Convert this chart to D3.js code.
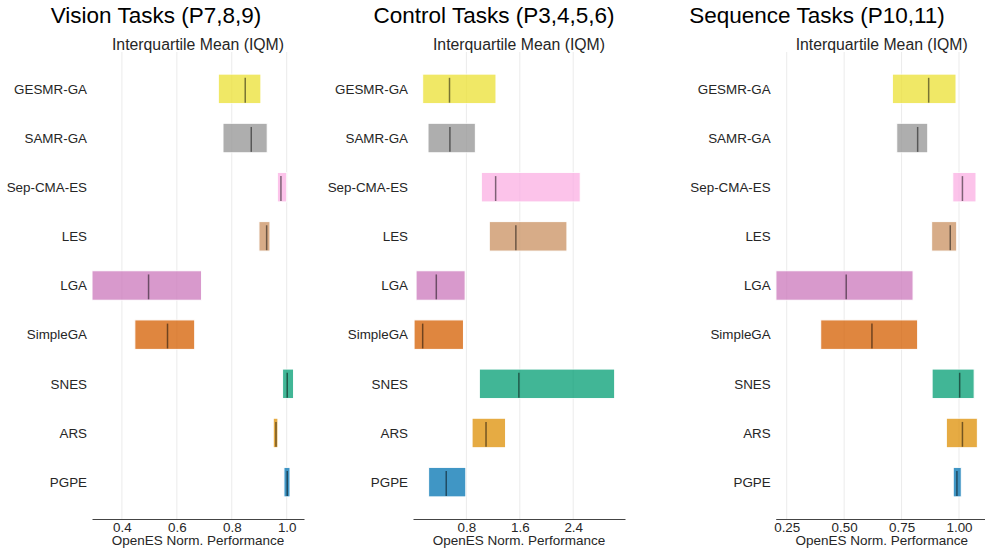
<!DOCTYPE html>
<html>
<head>
<meta charset="utf-8">
<script src="https://cdn.jsdelivr.net/npm/d3@7"></script>
<style>
  html, body { margin: 0; padding: 0; background: #fff; }
  svg { display: block; font-family: "Liberation Sans", Arial, Helvetica, sans-serif; }
</style>
</head>
<body>
<svg id="chart" width="985" height="553"></svg>
<script>
// Algorithms, top row first
const algorithms = ["GESMR-GA", "SAMR-GA", "Sep-CMA-ES", "LES", "LGA", "SimpleGA", "SNES", "ARS", "PGPE"];
const colors = ["#ece133", "#949494", "#fbafe4", "#ca9161", "#cc78bc", "#d55e00", "#029e73", "#de8f05", "#0173b2"];

// Vision tasks: IQM interval (lower, upper) and point estimate
const visionLower = [0.751, 0.768, 0.966, 0.899, 0.291, 0.447, 0.985, 0.951, 0.990];
const visionIQM   = [0.849, 0.871, 0.979, 0.927, 0.497, 0.566, 1.002, 0.961, 1.002];
const visionUpper = [0.906, 0.929, 1.000, 0.939, 0.690, 0.665, 1.025, 0.968, 1.012];

// Control tasks
const controlLower = [0.145, 0.225, 1.024, 1.143, 0.046, 0.016, 0.994, 0.885, 0.234];
const controlIQM   = [0.547, 0.553, 1.238, 1.541, 0.349, 0.145, 1.586, 1.094, 0.498];
const controlUpper = [1.243, 0.934, 2.505, 2.306, 0.781, 0.756, 3.021, 1.387, 0.791];

// Sequence tasks
const sequenceLower = [0.710, 0.729, 0.973, 0.881, 0.203, 0.398, 0.883, 0.945, 0.975];
const sequenceIQM   = [0.868, 0.820, 1.015, 0.962, 0.509, 0.621, 1.003, 1.015, 0.991];
const sequenceUpper = [0.987, 0.864, 1.074, 0.990, 0.800, 0.820, 1.066, 1.080, 1.010];

// Axis ticks
const visionTicks = [0.4, 0.6, 0.8, 1.0];
const controlTicks = [0.8, 1.6, 2.4];
const sequenceTicks = [0.25, 0.50, 0.75, 1.00];

const panels = [
  { title: "Vision Tasks (P7,8,9)", lower: visionLower, iqm: visionIQM, upper: visionUpper,
    ticks: visionTicks, fmt: ".1f", domain: [0.291, 1.063], left: 92, titleX: 156 },
  { title: "Control Tasks (P3,4,5,6)", lower: controlLower, iqm: controlIQM, upper: controlUpper,
    ticks: controlTicks, fmt: ".1f", domain: [0, 3.176], left: 413, titleX: 494 },
  { title: "Sequence Tasks (P10,11)", lower: sequenceLower, iqm: sequenceIQM, upper: sequenceUpper,
    ticks: sequenceTicks, fmt: ".2f", domain: [0.202, 1.125], left: 775.7, titleX: 817 }
];

const svg = d3.select("#chart");
const plotW = 212, plotTop = 52, plotBottom = 519;
const n = algorithms.length;

// Row index: 0 at the bottom (PGPE), n-1 at the top
const y = d3.scaleLinear().domain([-0.75, n - 0.25]).range([plotBottom, plotTop]);
const rowIdx = i => n - 1 - i;
const step = y(0) - y(1);

panels.forEach(p => {
  const x = d3.scaleLinear().domain(p.domain).range([p.left, p.left + plotW]);
  const g = svg.append("g");

  // vertical grid
  g.selectAll("line.grid").data(p.ticks).enter().append("line")
    .attr("class", "grid")
    .attr("x1", d => x(d)).attr("x2", d => x(d))
    .attr("y1", plotTop).attr("y2", plotBottom)
    .attr("stroke", "#ebebeb").attr("stroke-width", 1);

  // interval bars
  g.selectAll("rect.bar").data(algorithms).enter().append("rect")
    .attr("class", "bar")
    .attr("x", (d, i) => x(p.lower[i]))
    .attr("width", (d, i) => x(p.upper[i]) - x(p.lower[i]))
    .attr("y", (d, i) => y(rowIdx(i) + 0.3))
    .attr("height", 0.6 * step)
    .attr("fill", (d, i) => colors[i])
    .attr("stroke", "#fff")
    .attr("stroke-width", 1)
    .attr("opacity", 0.75);

  // point estimates
  g.selectAll("line.med").data(algorithms).enter().append("line")
    .attr("class", "med")
    .attr("x1", (d, i) => x(p.iqm[i])).attr("x2", (d, i) => x(p.iqm[i]))
    .attr("y1", (d, i) => y(rowIdx(i) + 6 * 0.6 / 16))
    .attr("y2", (d, i) => y(rowIdx(i) - 7.5 * 0.6 / 16))
    .attr("stroke", "#000").attr("stroke-opacity", 0.5).attr("stroke-width", 1.5);

  // algorithm labels
  g.selectAll("text.lab").data(algorithms).enter().append("text")
    .attr("class", "lab")
    .attr("x", p.left - 5)
    .attr("y", (d, i) => y(rowIdx(i)))
    .attr("dy", "0.35em")
    .attr("text-anchor", "end")
    .attr("font-size", 13.4)
    .attr("fill", "#262626")
    .text(d => d);

  // x axis
  const axis = d3.axisBottom(x).tickValues(p.ticks).tickFormat(d3.format(p.fmt)).tickSize(0).tickPadding(3);
  const ax = g.append("g").attr("transform", `translate(0,${plotBottom})`).call(axis);
  ax.select(".domain").attr("stroke", "#444").attr("stroke-width", 1.2);
  ax.selectAll("text").attr("font-size", 13.4).attr("fill", "#262626")
    .attr("font-family", "\"Liberation Sans\", Arial, sans-serif");

  g.append("text")
    .attr("x", p.left + plotW / 2).attr("y", 545)
    .attr("text-anchor", "middle").attr("font-size", 13.5).attr("fill", "#262626")
    .text("OpenES Norm. Performance");

  // subtitle
  g.append("text")
    .attr("x", p.left + plotW / 2).attr("y", 50)
    .attr("text-anchor", "middle").attr("font-size", 15.8).attr("fill", "#262626")
    .text("Interquartile Mean (IQM)");

  // title
  g.append("text")
    .attr("x", p.titleX).attr("y", 23)
    .attr("text-anchor", "middle").attr("font-size", 22.5).attr("fill", "#000")
    .text(p.title);
});
</script>
</body>
</html>
